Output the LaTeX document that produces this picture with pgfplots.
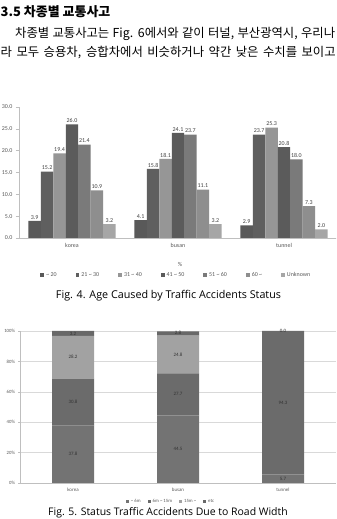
\documentclass[border=0pt]{standalone}
\usepackage{pgfplots}
\pgfplotsset{compat=1.18}
\usepackage{fontspec}
\setmainfont{Carlito}
\newfontfamily\kr{Noto Sans CJK KR}
\newfontfamily\capfont{Open Sans}
\definecolor{aa}{HTML}{595959}
\definecolor{ab}{HTML}{5F5F5F}
\definecolor{ac}{HTML}{969696}
\definecolor{ad}{HTML}{5B5B5B}
\definecolor{ae}{HTML}{7A7A7A}
\definecolor{af}{HTML}{8E8E8E}
\definecolor{ag}{HTML}{A6A6A6}
\definecolor{ba}{HTML}{737373}
\definecolor{bb}{HTML}{6B6B6B}
\definecolor{bc}{HTML}{A2A2A2}
\definecolor{bd}{HTML}{686868}
\definecolor{axgray}{HTML}{BFBFBF}
\definecolor{txgray}{HTML}{595959}
\pgfplotsset{/pgf/number format/assume math mode=true}
\begin{document}
\begin{tikzpicture}[x=1bp,y=1bp]
\useasboundingbox (0,0) rectangle (336,519);
\clip (0,0) rectangle (336,519);
\fill[white] (0,0) rectangle (336,519);
% heading and paragraph
\node[anchor=west, inner sep=0pt, font=\kr\bfseries\fontsize{13}{13}\selectfont] at (0.5,507) {3.5 차종별 교통사고};
\node[anchor=west, inner sep=0pt, font=\kr\fontsize{12.4}{12.4}\selectfont] at (15,485)
  {\hbox to 320bp{\spaceskip=3pt plus 1fil 차종별 교통사고는 Fig. 6에서와 같이 터널, 부산광역시, 우리나}};
\node[anchor=west, inner sep=0pt, font=\kr\fontsize{12.4}{12.4}\selectfont] at (0.5,466)
  {\hbox to 335bp{\spaceskip=3pt plus 1fil 라 모두 승용차, 승합차에서 비슷하거나 약간 낮은 수치를 보이고}};
% Fig 4
\begin{axis}[
  at={(19bp,281bp)}, anchor=south west, scale only axis,
  width=318bp, height=131bp,
  ybar=0pt, bar width=0.1175,
  xmin=-0.5, xmax=2.5, ymin=0, ymax=30,
  axis x line*=bottom, axis y line*=left,
  axis line style={draw=axgray, line width=0.5bp},
  tick align=outside, major tick length=3bp,
  xtick={0,1,2}, xticklabels={korea,busan,tunnel},
  major x tick style={draw=none},
  x tick label style={font=\fontsize{6}{6}\selectfont, text=txgray, yshift=1bp},
  extra x ticks={-0.5,0.5,1.5},
  extra x tick labels={},
  extra x tick style={major tick length=22bp, tick style={draw=axgray, line width=0.5bp}},
  ytick={0,5,...,30},
  ytick style={draw=axgray, line width=0.5bp},
  y tick label style={font=\fontsize{6}{6}\selectfont, text=txgray},
  yticklabel={\pgfmathprintnumber[fixed,fixed zerofill,precision=1]{\tick}},
  nodes near coords={\pgfmathprintnumber[fixed,fixed zerofill,precision=1]{\pgfplotspointmeta}},
  nodes near coords style={font=\fontsize{6}{6}\selectfont, text=black!75, inner sep=1.5bp},
  xlabel={\%},
  xlabel style={at={(axis description cs:0.506,-0.2)}, anchor=center, font=\fontsize{6}{6}\selectfont, text=txgray},
  legend columns=7,
  legend style={at={(axis description cs:0.495,-0.283)}, anchor=center, draw=none, fill=none,
    font=\fontsize{6}{6}\selectfont, text=txgray,
    /tikz/every even column/.append style={column sep=17bp}},
  every axis plot post/.append style={legend image code/.code={\fill[##1] (0bp,-1.6bp) rectangle (3.8bp,2.2bp);}},
  clip=false,
]
\addplot[draw=none, fill=aa] coordinates {(0,3.9) (1,4.1) (2,2.9)};
\addplot[draw=none, fill=ab] coordinates {(0,15.2) (1,15.8) (2,23.7)};
\addplot[draw=none, fill=ac] coordinates {(0,19.4) (1,18.1) (2,25.3)};
\addplot[draw=none, fill=ad] coordinates {(0,26.0) (1,24.1) (2,20.8)};
\addplot[draw=none, fill=ae] coordinates {(0,21.4) (1,23.7) (2,18.0)};
\addplot[draw=none, fill=af] coordinates {(0,10.9) (1,11.1) (2,7.3)};
\addplot[draw=none, fill=ag] coordinates {(0,3.2) (1,3.2) (2,2.0)};
\legend{\textasciitilde\ 20, 21 \textasciitilde\ 30, 31 \textasciitilde\ 40, 41 \textasciitilde\ 50, 51 \textasciitilde\ 60, 60 \textasciitilde, Unknown}
\end{axis}
\node[anchor=base, inner sep=0pt, font=\capfont\fontsize{10.8}{10.8}\selectfont] at (168.5,220) {Fig. 4. Age Caused by Traffic Accidents Status};
% Fig 5
\begin{axis}[
  at={(20.5bp,36bp)}, anchor=south west, scale only axis,
  width=315bp, height=152bp,
  ybar stacked, bar width=0.4,
  xmin=-0.5, xmax=2.5, ymin=0, ymax=100,
  axis x line*=bottom, axis y line*=left,
  axis line style={draw=axgray, line width=0.5bp},
  tick align=outside, major tick length=2bp,
  ytick={0,20,...,100},
  yticklabel={\pgfmathprintnumber{\tick}\%},
  ymajorgrids, grid style={draw=black!15, line width=0.5bp},
  ytick style={draw=axgray, line width=0.5bp},
  y tick label style={font=\fontsize{4.8}{4.8}\selectfont, text=txgray},
  xtick={0,1,2}, xticklabels={korea,busan,tunnel},
  major x tick style={draw=none},
  x tick label style={font=\fontsize{5}{5}\selectfont, text=txgray},
  extra x ticks={-0.5,0.5,1.5,2.5},
  extra x tick labels={},
  extra x tick style={major tick length=3bp, tick style={draw=axgray, line width=0.5bp}},
  legend columns=4,
  legend style={at={(axis description cs:0.478,-0.125)}, anchor=center, draw=none, fill=none,
    font=\fontsize{4.8}{4.8}\selectfont, text=txgray,
    /tikz/every even column/.append style={column sep=5bp}},
  every axis plot post/.append style={legend image code/.code={\fill[##1] (0bp,-1.2bp) rectangle (3bp,1.8bp);}},
]
\addplot[draw=none, fill=ba] coordinates {(0,37.8) (1,44.5) (2,5.7)};
\addplot[draw=none, fill=bb] coordinates {(0,30.8) (1,27.7) (2,94.3)};
\addplot[draw=none, fill=bc] coordinates {(0,28.2) (1,24.8) (2,0.0)};
\addplot[draw=none, fill=bd] coordinates {(0,3.2) (1,2.8) (2,0.0)};
\legend{\textasciitilde\ 6m, 6m \textasciitilde\ 15m, 15m \textasciitilde, etc}
\end{axis}
\begin{axis}[
  at={(20.5bp,36bp)}, anchor=south west, scale only axis,
  width=315bp, height=152bp,
  xmin=-0.5, xmax=2.5, ymin=0, ymax=100,
  hide axis, clip=false,
]
\addplot[draw=none, mark=none, nodes near coords, point meta=explicit symbolic,
  nodes near coords style={anchor=center, inner sep=0pt, font=\fontsize{5}{5}\selectfont, text=black!80}]
  coordinates {(0,18.9)[37.8] (0,53.2)[30.8] (0,82.7)[28.2] (0,98.4)[3.2]
               (1,22.25)[44.5] (1,58.35)[27.7] (1,84.6)[24.8] (1,98.6)[2.8]
               (2,2.85)[5.7] (2,52.85)[94.3] (2,100)[0.0]};
\end{axis}
\node[anchor=base, inner sep=0pt, font=\capfont\fontsize{10.5}{10.5}\selectfont] at (168,3.5) {Fig. 5. Status Traffic Accidents Due to Road Width};
\end{tikzpicture}
\end{document}
